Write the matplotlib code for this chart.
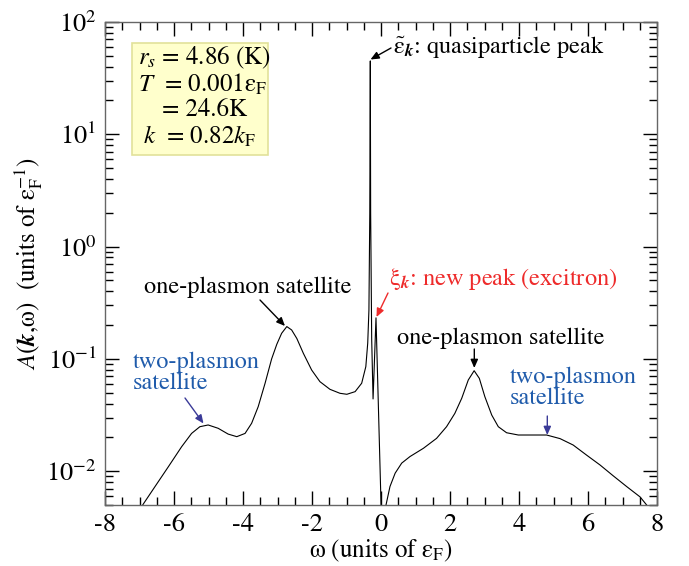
import matplotlib
matplotlib.use("Agg")
import matplotlib.pyplot as plt
from matplotlib.patches import Rectangle
from matplotlib.ticker import MultipleLocator, LogLocator, NullFormatter

# ---- data ----
omega = [-7.10, -6.89, -6.55, -6.16, -5.78, -5.49, -5.25, -5.01, -4.72, -4.43,
         -4.18, -3.94, -3.75, -3.56, -3.36, -3.17, -3.02, -2.88, -2.73, -2.59,
         -2.44, -2.25, -2.01, -1.77, -1.48, -1.19, -0.99, -0.75, -0.56, -0.44,
         -0.385, -0.35, -0.325, -0.31, -0.30, -0.27, -0.23, -0.145, 0.01, 0.05,
         0.145, 0.26, 0.41, 0.60, 0.84, 1.23, 1.61, 1.90, 2.14, 2.34,
         2.53, 2.70, 2.85, 3.01, 3.21, 3.40, 3.64, 3.98, 4.40, 4.80,
         5.19, 5.57, 5.96, 6.35, 6.73, 7.12, 7.51, 7.70, 7.90]
spectral = [0.0040, 0.0051, 0.0073, 0.0110, 0.0165, 0.0217, 0.0249, 0.0258, 0.0241, 0.0214,
            0.0203, 0.0217, 0.0267, 0.0375, 0.0607, 0.100, 0.135, 0.169, 0.194, 0.181,
            0.152, 0.112, 0.0796, 0.0627, 0.0536, 0.0494, 0.0484, 0.0511, 0.0607, 0.0853,
            0.138, 0.272, 2.0, 45.0, 2.0, 0.15, 0.044, 0.232, 0.004, 0.001,
            0.005, 0.0073, 0.0096, 0.0118, 0.0135, 0.0160, 0.0196, 0.0249, 0.0327, 0.0446,
            0.0649, 0.0785, 0.0671, 0.0461, 0.0316, 0.0249, 0.0220, 0.0210, 0.0210, 0.0210,
            0.0195, 0.0171, 0.0139, 0.01135, 0.0091, 0.0073, 0.0059, 0.0050, 0.0042]

xlim = (-8, 8)
ylim = (0.005, 100)
xticks = [-8, -6, -4, -2, 0, 2, 4, 6, 8]

plt.rcParams['font.family'] = ['STIXGeneral', 'DejaVu Serif']
plt.rcParams['mathtext.fontset'] = 'stix'
plt.rcParams['axes.unicode_minus'] = False

fig = plt.figure(figsize=(6.89, 5.66), dpi=100)
ax = fig.add_axes([105/689, 1-505/566, 552/689, 483/566])

ax.plot(omega, spectral, color='black', lw=0.8)
ax.set_yscale('log')
ax.set_xlim(*xlim)
ax.set_ylim(*ylim)
ax.set_xticks(xticks)
ax.xaxis.set_minor_locator(MultipleLocator(0.5))
ax.yaxis.set_major_locator(LogLocator(base=10, numticks=10))
ax.yaxis.set_minor_locator(LogLocator(base=10, subs=range(2, 10), numticks=20))
ax.yaxis.set_minor_formatter(NullFormatter())
ax.tick_params(which='both', direction='in', top=True, right=True, labelsize=19)
ax.tick_params(which='major', length=10, width=1.0, pad=6)
ax.tick_params(which='minor', length=6, width=1.0)
for s in ax.spines.values():
    s.set_color('#666666')
    s.set_linewidth(1.0)

ax.set_xlabel(r'ω (units of ε$_{\mathrm{F}}$)', fontsize=18, labelpad=0)
ax.set_ylabel(r'$A$($\boldsymbol{k}$,ω)  (units of ε$_{\mathrm{F}}^{-1}$)', fontsize=18, labelpad=2)

# ---- parameter box ----
def fx(px):
    return (px - 105) / 552
def fy(py):
    return (505 - py) / 483

ax.add_patch(Rectangle((fx(132), fy(155)), fx(268) - fx(132), fy(43) - fy(155),
                       transform=ax.transAxes, facecolor='#ffffcc', edgecolor='#e2e29a', lw=1.2))
box_lines = [
    (138, 58, r'$r_s$ = 4.86 (K)'),
    (138, 85, r'$T$  = 0.001ε$_{\mathrm{F}}$'),
    (162, 110, r'= 24.6K'),
    (143, 137, r'$k$  = 0.82$k_{\mathrm{F}}$'),
]
for px, py, t in box_lines:
    ax.text(fx(px), fy(py), t, transform=ax.transAxes, fontsize=18, ha='left', va='center')

blue_text = '#1f5bab'
blue_arrow = '#3a3a98'
red = '#ee2b2b'
fs = 17.5

def arrow(p0, p1, color):
    ax.annotate('', xy=(fx(p1[0]), fy(p1[1])), xycoords='axes fraction',
                xytext=(fx(p0[0]), fy(p0[1])), textcoords='axes fraction',
                arrowprops=dict(arrowstyle='-|>,head_length=0.5,head_width=0.22', color=color, lw=1.0,
                                shrinkA=0, shrinkB=0))

ax.text(fx(393), fy(47), r'$\tilde{\mathrm{\varepsilon}}_{\boldsymbol{k}}$: quasiparticle peak',
        transform=ax.transAxes, fontsize=fs, ha='left', va='center')
arrow((391, 48), (370.5, 59.5), 'black')

ax.text(fx(248), fy(287), 'one-plasmon satellite', transform=ax.transAxes,
        fontsize=fs, ha='center', va='center')
arrow((260, 300), (285, 326), 'black')

ax.text(fx(389), fy(279), r'ξ$_{\boldsymbol{k}}$: new peak (excitron)', transform=ax.transAxes,
        fontsize=fs, ha='left', va='center', color=red)
arrow((388, 293), (376.5, 317), red)

ax.text(fx(501), fy(338), 'one-plasmon satellite', transform=ax.transAxes,
        fontsize=fs, ha='center', va='center')
arrow((474.3, 349), (474.3, 368), 'black')

ax.text(fx(133), fy(373), 'two-plasmon\nsatellite', transform=ax.transAxes,
        fontsize=fs, ha='left', va='center', color=blue_text, linespacing=1.0)
arrow((185, 398), (203.5, 423.5), blue_arrow)

ax.text(fx(510), fy(388), 'two-plasmon\nsatellite', transform=ax.transAxes,
        fontsize=fs, ha='left', va='center', color=blue_text, linespacing=1.0)
arrow((547.3, 416), (547.3, 435), blue_arrow)

fig.savefig('out.png', dpi=100)
